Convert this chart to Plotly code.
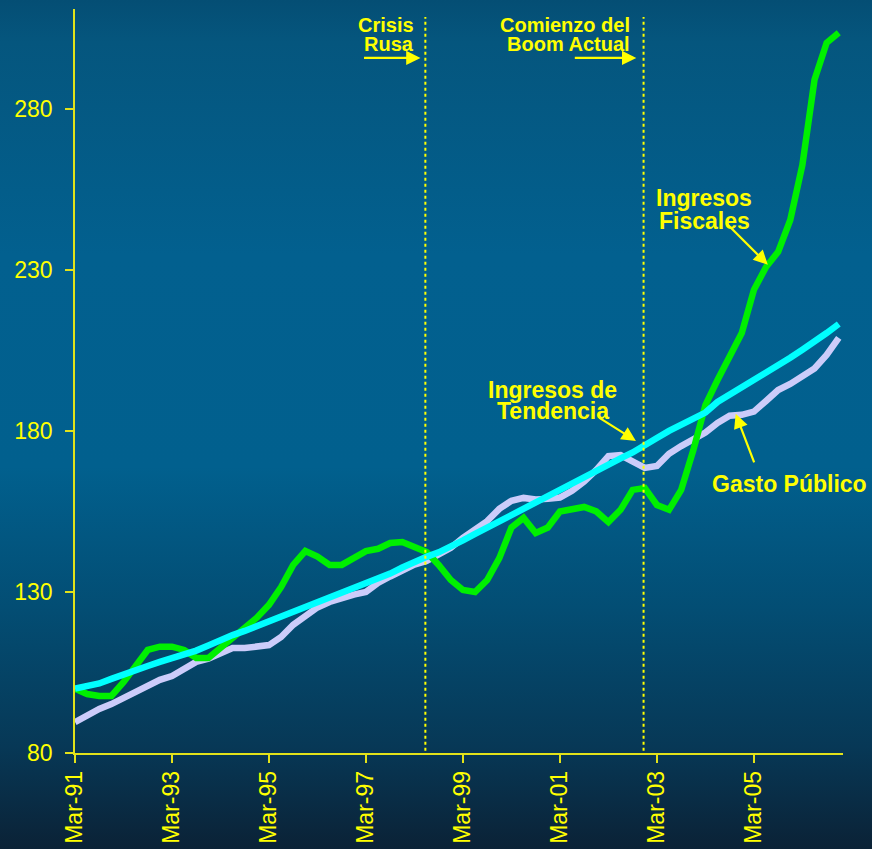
import base64
import plotly.graph_objects as go

# ---------------- data (quarterly, index) ----------------
quarters = list(range(64))  # Mar-91 ... Dec-06
tick_pos = [0, 8, 16, 24, 32, 40, 48, 56]
tick_text = ["Mar-91", "Mar-93", "Mar-95", "Mar-97", "Mar-99", "Mar-01", "Mar-03", "Mar-05"]
y_ticks = [80, 130, 180, 230, 280]

ingresos_fiscales = [
    100.0, 98.3, 97.7, 97.7, 102.0, 107.0, 112.0, 113.0,
    113.0, 112.0, 109.5, 109.5, 112.6, 116.3, 119.0, 122.0,
    126.0, 131.5, 138.4, 142.7, 141.0, 138.4, 138.4, 140.5,
    142.7, 143.4, 145.2, 145.5, 144.0, 142.4, 138.4, 133.7,
    130.6, 130.0, 133.7, 140.5, 150.0, 153.0, 148.3, 150.0,
    155.0, 155.5, 156.4, 155.0, 151.7, 155.5, 161.7, 162.3,
    157.0, 155.5, 161.7, 174.0, 188.0, 195.8, 203.6, 210.4,
    223.8, 230.9, 235.6, 245.5, 262.6, 289.0, 300.5, 303.6,
]
ingresos_tendencia = [
    100.0, 100.6, 101.6, 103.0, 104.5, 105.8, 107.0, 108.3,
    109.4, 110.5, 111.8, 113.4, 115.1, 116.6, 117.9, 119.4,
    120.8, 122.5, 123.9, 125.3, 126.6, 128.1, 129.7, 131.1,
    132.5, 134.0, 135.7, 137.6, 139.5, 140.9, 142.3, 144.0,
    146.0, 148.0, 150.0, 152.0, 154.0, 155.9, 158.0, 160.0,
    162.0, 164.0, 165.8, 167.7, 169.7, 171.5, 173.3, 175.3,
    177.8, 180.0, 181.9, 183.7, 185.7, 189.0, 191.2, 193.5,
    195.8, 198.0, 200.2, 202.7, 205.2, 207.6, 210.4, 213.2,
]
gasto_publico = [
    89.6, 91.8, 93.7, 95.2, 97.1, 98.8, 100.8, 102.7,
    103.9, 106.1, 108.3, 109.3, 110.7, 112.6, 112.6, 113.1,
    113.5, 116.0, 119.8, 122.5, 125.2, 126.9, 128.3, 129.2,
    130.0, 132.8, 134.8, 136.8, 138.5, 139.6, 141.8, 143.7,
    146.8, 149.6, 152.0, 155.8, 158.3, 159.2, 158.7, 158.9,
    159.3, 161.4, 164.3, 167.9, 172.2, 172.5, 170.7, 168.5,
    169.1, 172.9, 175.3, 177.5, 179.5, 182.5, 184.7, 185.0,
    186.0, 189.3, 192.7, 194.6, 197.1, 199.4, 203.6, 208.9,
]

crisis_q = 28.9   # Crisis Rusa
boom_q = 46.9     # Comienzo del Boom Actual

# ---------------- styling ----------------
YEL = "#ffff00"
AXIS_YEL = "#e2e21a"
FONT = "Liberation Sans, Arial, sans-serif"
W, H = 872, 849
ML, MR, MT, MB = 75, 29, 9, 96
PW, PH = W - ML - MR, H - MT - MB
Y0, Y1 = 80, 311

fig = go.Figure()
fig.add_trace(go.Scatter(x=quarters, y=gasto_publico, mode="lines",
                         line=dict(color="#ccccfa", width=6.5), name="Gasto Público"))
fig.add_trace(go.Scatter(x=quarters, y=ingresos_fiscales, mode="lines",
                         line=dict(color="#00f000", width=6.5), name="Ingresos Fiscales"))
fig.add_trace(go.Scatter(x=quarters, y=ingresos_tendencia, mode="lines",
                         line=dict(color="#00ffff", width=6.5), name="Ingresos de Tendencia"))

# gradient background as inline SVG image
svg = f'''<svg xmlns="http://www.w3.org/2000/svg" width="{W}" height="{H}" preserveAspectRatio="none">
<defs><linearGradient id="g" x1="0" y1="0" x2="0" y2="1">
<stop offset="0" stop-color="#044e74"/>
<stop offset="0.05" stop-color="#05567e"/>
<stop offset="0.3" stop-color="#02608f"/>
<stop offset="0.55" stop-color="#01608e"/>
<stop offset="0.72" stop-color="#034d73"/>
<stop offset="0.88" stop-color="#073856"/>
<stop offset="1" stop-color="#0b2236"/>
</linearGradient></defs>
<rect x="0" y="0" width="{W}" height="{H}" fill="url(#g)"/></svg>'''
src = "data:image/svg+xml;base64," + base64.b64encode(svg.encode()).decode()

xr0 = -ML / PW
xr1 = 1 + MR / PW
yt = 1 + MT / PH
yb = -MB / PH

fig.update_layout(
    width=W, height=H,
    margin=dict(l=ML, r=MR, t=MT, b=MB, autoexpand=False),
    paper_bgcolor="#0b2236",
    plot_bgcolor="rgba(0,0,0,0)",
    showlegend=False,
    font=dict(family=FONT, color=YEL, size=23),
    images=[dict(source=src, xref="paper", yref="paper", x=xr0, y=yt,
                 sizex=xr1 - xr0, sizey=yt - yb, sizing="stretch",
                 xanchor="left", yanchor="top", layer="below")],
    xaxis=dict(range=[0, 63.35], tickvals=tick_pos, ticktext=tick_text,
               tickangle=-90, showgrid=False, zeroline=False, automargin=False,
               showline=True, linecolor=AXIS_YEL, linewidth=1.5,
               ticks="outside", ticklen=8, tickcolor=AXIS_YEL, tickwidth=1.5,
               tickfont=dict(size=23, color=YEL, family=FONT),
               ticklabelstandoff=-1),
    yaxis=dict(range=[Y0, Y1], tickvals=y_ticks, showgrid=False, zeroline=False,
               automargin=False,
               showline=True, linecolor=AXIS_YEL, linewidth=1.5,
               ticks="outside", ticklen=8, tickcolor=AXIS_YEL, tickwidth=1.5,
               tickfont=dict(size=23, color=YEL, family=FONT),
               ticklabelstandoff=8),
)

# vertical dotted event lines
for q in (crisis_q, boom_q):
    fig.add_shape(type="line", xref="x", yref="y", x0=q, x1=q, y0=Y0 - 1.2, y1=308.5,
                  line=dict(color=YEL, width=2, dash="dot"))

def txt(x, y, s, size, xanchor="center"):
    fig.add_annotation(x=x, y=y, xref="x", yref="y", text=f"<b>{s}</b>", showarrow=False,
                       xanchor=xanchor, yanchor="middle",
                       font=dict(size=size, color=YEL, family=FONT))

def arrow(x, y, ax, ay):
    fig.add_annotation(x=x, y=y, xref="x", yref="y", text="", showarrow=True,
                       ax=ax, ay=ay, axref="pixel", ayref="pixel",
                       arrowhead=2, arrowsize=1.3, arrowwidth=2.2, arrowcolor=YEL)

# top labels
txt(crisis_q - 0.8, 306.0, "Crisis", 20, "right")
txt(crisis_q - 0.8, 300.1, "Rusa", 20, "right")
arrow(crisis_q - 0.4, 295.8, -58, 0)
txt(boom_q - 0.95, 306.0, "Comienzo del", 20, "right")
txt(boom_q - 0.95, 300.1, "Boom Actual", 20, "right")
arrow(boom_q - 0.6, 295.8, -63, 0)

# series labels
txt(51.9, 252.4, "Ingresos", 23)
txt(51.9, 245.2, "Fiscales", 23)
arrow(57.15, 231.6, -43, -43)

txt(39.4, 192.8, "Ingresos de", 23)
txt(39.4, 186.1, "Tendencia", 23)
arrow(46.27, 176.9, -38, -24)

txt(52.4, 163.5, "Gasto Público", 23, "left")
arrow(54.5, 185.3, 19, 50)

fig.write_html("out.html", config={"displayModeBar": False},
               post_script="document.body.style.margin='0';")
